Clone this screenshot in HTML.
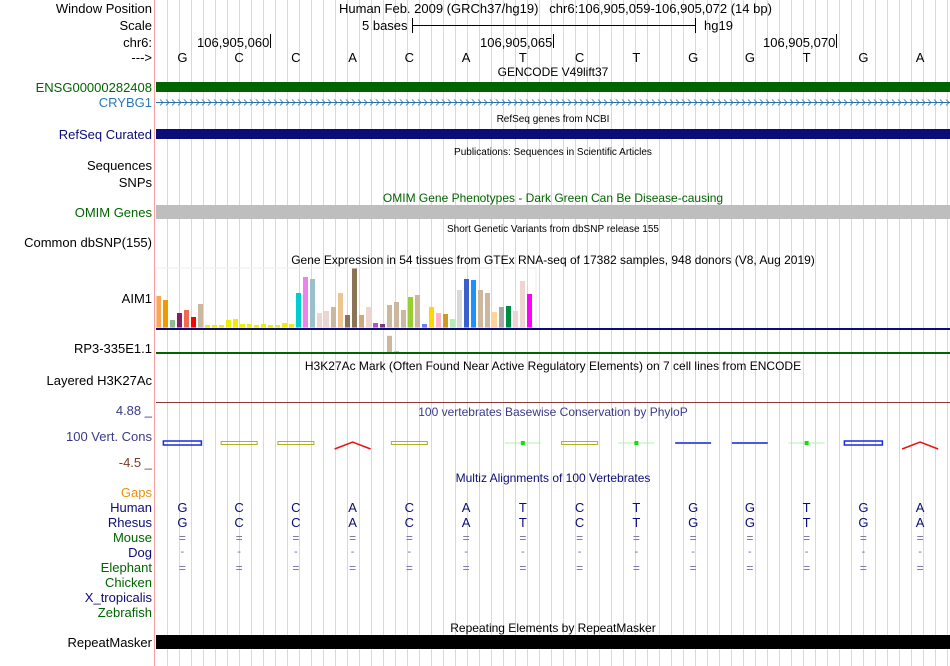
<!DOCTYPE html>
<html><head><meta charset="utf-8">
<style>
body{margin:0;background:#fff;}
#root{position:relative;width:950px;height:666px;overflow:hidden;background:#fff;font-family:"Liberation Sans",sans-serif;}
.l{position:absolute;right:798px;font-size:13px;white-space:nowrap;line-height:15px;}
.t{position:absolute;white-space:nowrap;font-size:13px;line-height:15px;}
.c{position:absolute;left:156px;width:794px;text-align:center;white-space:nowrap;line-height:15px;}
.bar{position:absolute;left:156px;width:794px;}
</style></head>
<body>
<div id="root">
<svg id="grid" width="950" height="666" style="position:absolute;left:0;top:0"></svg>

<div class="l" style="top:1px">Window Position</div>
<div class="l" style="top:18px">Scale</div>
<div class="l" style="top:35px">chr6:</div>
<div class="l" style="top:50px">---&gt;</div>
<div class="l" style="top:80px;color:#006400">ENSG00000282408</div>
<div class="l" style="top:95px;color:#2a7ab8">CRYBG1</div>
<div class="l" style="top:127px;color:#0c0c78">RefSeq Curated</div>
<div class="l" style="top:158px">Sequences</div>
<div class="l" style="top:175px">SNPs</div>
<div class="l" style="top:205px;color:#006400">OMIM Genes</div>
<div class="l" style="top:235px">Common dbSNP(155)</div>
<div class="l" style="top:291px">AIM1</div>
<div class="l" style="top:341px">RP3-335E1.1</div>
<div class="l" style="top:373px">Layered H3K27Ac</div>
<div class="l" style="top:403px;color:#3a3a8a">4.88 _</div>
<div class="l" style="top:429px;color:#3a3a8a">100 Vert. Cons</div>
<div class="l" style="top:455px;color:#7a3a2a">-4.5 _</div>
<div class="l" style="top:485px;color:#f0900a">Gaps</div>
<div class="l" style="top:500px;color:#0c0c78">Human</div>
<div class="l" style="top:515px;color:#0c0c78">Rhesus</div>
<div class="l" style="top:530px;color:#006400">Mouse</div>
<div class="l" style="top:545px;color:#0c0c78">Dog</div>
<div class="l" style="top:560px;color:#006400">Elephant</div>
<div class="l" style="top:575px;color:#006400">Chicken</div>
<div class="l" style="top:590px;color:#0c0c78">X_tropicalis</div>
<div class="l" style="top:605px;color:#006400">Zebrafish</div>
<div class="l" style="top:635px">RepeatMasker</div>

<div class="t" style="left:339px;top:1px">Human Feb. 2009 (GRCh37/hg19)&nbsp;&nbsp;&nbsp;chr6:106,905,059-106,905,072 (14 bp)</div>
<div class="t" style="left:362px;top:18px">5 bases</div>
<div class="t" style="left:704px;top:18px">hg19</div>
<div class="t" style="left:197px;top:35px">106,905,060</div>
<div class="t" style="left:480px;top:35px">106,905,065</div>
<div class="t" style="left:763px;top:35px">106,905,070</div>

<div class="c" style="top:65px;font-size:12px">GENCODE V49lift37</div>
<div class="bar" style="top:82px;height:10px;background:#006400"></div>
<div class="c" style="top:112px;font-size:10px">RefSeq genes from NCBI</div>
<div class="bar" style="top:129px;height:10px;background:#0c0c78"></div>
<div class="c" style="top:145px;font-size:10px">Publications: Sequences in Scientific Articles</div>
<div class="c" style="top:191px;font-size:12px;color:#006400">OMIM Gene Phenotypes - Dark Green Can Be Disease-causing</div>
<div class="bar" style="top:205px;height:14px;background:#bebebe"></div>
<div class="c" style="top:222px;font-size:10px">Short Genetic Variants from dbSNP release 155</div>
<div class="c" style="top:253px;font-size:12px">Gene Expression in 54 tissues from GTEx RNA-seq of 17382 samples, 948 donors (V8, Aug 2019)</div>
<div class="c" style="top:359px;font-size:12px">H3K27Ac Mark (Often Found Near Active Regulatory Elements) on 7 cell lines from ENCODE</div>
<div class="bar" style="top:402px;height:1px;background:#8b3a3a"></div>
<div class="c" style="top:405px;font-size:12px;color:#3a3a8a">100 vertebrates Basewise Conservation by PhyloP</div>
<div class="c" style="top:471px;font-size:12px;color:#0c0c78">Multiz Alignments of 100 Vertebrates</div>
<div class="c" style="top:621px;font-size:12px">Repeating Elements by RepeatMasker</div>
<div class="bar" style="top:635px;height:14px;background:#000"></div>

<svg id="fg" width="950" height="666" style="position:absolute;left:0;top:0"></svg>
</div>
<script>
const bases=["G","C","C","A","C","A","T","C","T","G","G","T","G","A"];
const gtexValues=[32,28,8,15,18,11,24,3,3,3,8,9,4,4,3,4,3,3,5,4,35,51,49,15,17,21,35,13,60,13,21,5,4,23,26,18,31,33,4,21,15,14,9,38,49,48,38,35,16,21,22,17,47,34];
const gtexColors=["#FFA54F","#EE9A00","#8FBC8F","#8B1C62","#EE6A50","#FF0000","#CDB79E","#EEEE00","#EEEE00","#EEEE00","#EEEE00","#EEEE00","#EEEE00","#EEEE00","#EEEE00","#EEEE00","#EEEE00","#EEEE00","#EEEE00","#EEEE00","#00CED1","#EE82EE","#9AC0CD","#EED5D2","#EED5D2","#CDB79E","#EEC591","#8B7355","#8B7355","#CDAA7D","#EED5D2","#B452CD","#7A378B","#CDB79E","#CDB79E","#CDB79E","#9ACD32","#CDB79E","#7777FF","#FFD700","#FFB6C1","#CD9B1D","#B4EEB4","#D9D9D9","#3A5FCD","#1E90FF","#CDB79E","#CDB79E","#FFD39B","#A6A6A6","#008B45","#EED5D2","#EED5D2","#FF00FF"];
const rp3Values=[0,0,0,0,0,0,0,0,0,0,0,0,0,0,0,0,0,0,0,0,0,0,0,0,0,0,0,0,0,0,0,0,0,18,1,0,0,0,0,0,0,0,0,0,0,0,0,0,0,0,0,0,0,0];
const consTypes=["blueRect","yellow","yellow","red","yellow","none","green","yellow","green","blueLine","blueLine","green","blueRect","red"];
const mouseRow=["=","=","=","=","=","=","=","=","=","=","=","=","=","="];
const dogRow=["-","-","-","-","-","-","-","-","-","-","-","-","-","-"];

const NS="http://www.w3.org/2000/svg";
const g=document.getElementById('grid'), fg=document.getElementById('fg');
function mk(p,tag,a){const e=document.createElementNS(NS,tag);for(const k in a)e.setAttribute(k,a[k]);p.appendChild(e);return e;}
const baseX=i=>154+56.75*(i+0.5);
const gtexX=i=>156+7*i;
const gtexY0=328, gtexScale=1;

// grid
for(let x=167;x<950;x+=12){const e=mk(g,'line',{x1:x+.5,x2:x+.5,y1:0,y2:666,stroke:'#d6d6f2','stroke-width':1});

}
const pb=mk(g,'line',{x1:154.5,x2:154.5,y1:0,y2:666,stroke:'#f4a0a0'});



// ruler
[[412,695]].forEach(([a,b])=>{mk(fg,'line',{x1:a,x2:b,y1:25.5,y2:25.5,stroke:'#000'});mk(fg,'line',{x1:a+.5,x2:a+.5,y1:18,y2:33,stroke:'#000'});mk(fg,'line',{x1:b+.5,x2:b+.5,y1:18,y2:33,stroke:'#000'});});
[270,553,836].forEach(x=>mk(fg,'line',{x1:x+.5,x2:x+.5,y1:34,y2:48,stroke:'#000'}));

function txt(x,y,s,col,size,name){const e=mk(fg,'text',{x:x,y:y,fill:col,'font-size':size,'text-anchor':'middle','font-family':'Liberation Sans, sans-serif'});e.textContent=s;

return e;}
bases.forEach((b,i)=>{
 txt(baseX(i),62,b,'#000',13,'base-letter');
 txt(baseX(i),512,b,'#0c0c78',13,'human-base');
 txt(baseX(i),527,b,'#0c0c78',13,'rhesus-base');
 txt(baseX(i),542,mouseRow[i],'#6a6ab0',12,'mouse-base');
 txt(baseX(i),555,dogRow[i],'#6a6ab0',11,'dog-base');
 txt(baseX(i),572,mouseRow[i],'#6a6ab0',12,'elephant-base');
});

// CRYBG1 arrows
mk(fg,'line',{x1:156,x2:950,y1:102.5,y2:102.5,stroke:'#2a6fa8'});
for(let x=160;x<950;x+=6){mk(fg,'polyline',{points:`${x},99.5 ${x+3},102.5 ${x},105.5`,fill:'none',stroke:'#2a6fa8','stroke-width':0.8});}

// GTEx bars
gtexValues.forEach((v,i)=>{const e=mk(fg,'rect',{x:gtexX(i),y:gtexY0-v*gtexScale,width:5,height:v*gtexScale,fill:gtexColors[i]});

});
mk(fg,'rect',{x:156,y:268,width:380,height:60,fill:'none',stroke:'#eeeef4'});
mk(fg,'rect',{x:156,y:328,width:794,height:2,fill:'#0c0c78'});
rp3Values.forEach((v,i)=>{if(!v)return;const e=mk(fg,'rect',{x:gtexX(i),y:352-v*0.9,width:5,height:v*0.9,fill:gtexColors[i]});

});
mk(fg,'rect',{x:156,y:352,width:794,height:2,fill:'#006400'});

// conservation glyphs
consTypes.forEach((t,i)=>{const cx=baseX(i),y=443;let e;
 if(t==='blueRect'){e=mk(fg,'rect',{x:cx-19,y:y-2,width:38,height:4,fill:'none',stroke:'#1a2ae0','stroke-width':1.5});}
 else if(t==='yellow'){e=mk(fg,'rect',{x:cx-18,y:y-1.5,width:36,height:3,fill:'none',stroke:'#b0b020','stroke-width':1});}
 else if(t==='red'){e=mk(fg,'polyline',{points:`${cx-18},${y+6} ${cx},${y-1} ${cx+18},${y+6}`,fill:'none',stroke:'#ee1010','stroke-width':1.5});}
 else if(t==='green'){e=mk(fg,'g',{});mk(e,'line',{x1:cx-18,x2:cx+18,y1:y,y2:y,stroke:'#b0f0b0'});mk(e,'rect',{x:cx-2,y:y-2,width:4,height:4,fill:'#10e010'});}
 else if(t==='blueLine'){e=mk(fg,'rect',{x:cx-18,y:y-1,width:36,height:2,fill:'#4a5ae0'});}
 else return;
 
 
});
</script>
</body></html>
